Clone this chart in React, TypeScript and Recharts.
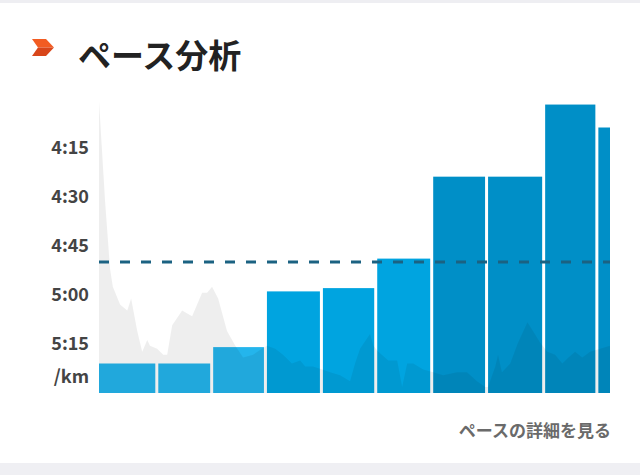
import { ComposedChart, Area, XAxis, YAxis, ReferenceArea, ReferenceLine, Label } from "recharts";

// km splits: start of each split (km), pace in seconds per km
const SPLIT_START_KM = [0, 1.07, 2.06, 3.03, 4.04, 5.02, 6.03, 7.02, 8.05, 9.01];
const TOTAL_KM = 9.22;
const SPLIT_PACE_SEC = [321, 321, 316, 299, 298, 289, 264, 264, 242, 249];
const AVG_PACE_SEC = 290;
const PACE_TICKS = [255, 270, 285, 300, 315];

// background profile (relative elevation)
const PROFILE_KM = [
  0, 0.11, 0.2, 0.25, 0.38, 0.51, 0.58, 0.69, 0.78, 0.87, 0.92, 1.05, 1.16, 1.23, 1.32,
  1.5, 1.68, 1.86, 1.95, 2.04, 2.15, 2.31, 2.46, 2.6, 2.78, 2.94, 3.03, 3.18, 3.32, 3.48,
  3.63, 3.72, 3.86, 4.03, 4.17, 4.35, 4.53, 4.62, 4.71, 4.89, 4.95, 5.04, 5.22, 5.38,
  5.47, 5.56, 5.67, 5.85, 6.03, 6.21, 6.46, 6.64, 6.82, 6.97, 7.02, 7.15, 7.2, 7.27,
  7.42, 7.56, 7.73, 7.83, 7.96, 8.09, 8.23, 8.36, 8.47, 8.59, 8.72, 8.86, 9.04, 9.22,
];
const PROFILE_VAL = [
  99, 65, 42, 36, 30, 28, 32, 21, 14, 18, 16, 15, 13, 13, 23,
  28, 26, 34, 34, 36, 32, 21, 16, 12, 13, 15, 16, 15, 13, 10,
  11, 9, 9, 8, 7, 6, 4, 10, 15, 20, 16, 14, 11, 11,
  2, 10, 10, 8, 7, 6, 7, 7, 4, 2, 2, 9, 13, 7,
  10, 17, 24, 21, 17, 14, 13, 10, 12, 14, 12, 14, 15, 16,
];

const profileData = PROFILE_KM.map((km, i) => ({ km, elev: PROFILE_VAL[i] }));

const FONT = '"Noto Sans CJK JP", "Noto Sans", sans-serif';
const GAP = 3;

function barColor(pace: number) {
  if (pace > 305) return "#24b5ec";
  if (pace > 270) return "#00a4e0";
  return "#008fc7";
}

function fmtPace(s: number) {
  const m = Math.floor(s / 60);
  const r = s % 60;
  return `${m}:${String(r).padStart(2, "0")}`;
}

export default function App() {
  return (
    <div
      style={{
        position: "absolute",
        left: 0,
        top: 0,
        width: 640,
        height: 475,
        background: "#fff",
        fontFamily: FONT,
        overflow: "hidden",
      }}
    >
      <div style={{ position: "absolute", left: 0, top: 0, width: 640, height: 3, background: "#eeeef2" }} />
      <div style={{ position: "absolute", left: 0, top: 463, width: 640, height: 12, background: "#efeff3" }} />

      <svg style={{ position: "absolute", left: 0, top: 0 }} width={60} height={70}>
        <polygon points="32,39 46,39 54,47.5 38,47.5" fill="#f25c22" />
        <polygon points="38,47.5 54,47.5 46,56 32,56" fill="#d8461a" />
      </svg>
      <div
        style={{
          position: "absolute",
          left: 78,
          top: 30,
          fontSize: 33,
          fontWeight: 700,
          color: "#222",
          lineHeight: "48px",
        }}
      >
        ペース分析
      </div>

      <div style={{ position: "absolute", left: 0, top: 0 }}>
        <ComposedChart
          width={640}
          height={475}
          data={profileData}
          margin={{ top: 98, right: 30, bottom: 82, left: 0 }}
        >
          <XAxis dataKey="km" type="number" domain={[0, TOTAL_KM]} allowDataOverflow hide />
          <YAxis
            yAxisId="pace"
            type="number"
            reversed
            domain={[240, 330]}
            allowDataOverflow
            ticks={PACE_TICKS}
            tickFormatter={fmtPace}
            width={99}
            axisLine={false}
            tickLine={false}
            tickSize={0}
            tickMargin={10}
            tick={{ fill: "#444", fontSize: 18, fontWeight: 700, fontFamily: FONT }}
          >
            <Label
              value="/km"
              position="insideBottomRight"
              offset={10}
              style={{ fill: "#444", fontSize: 18, fontWeight: 700, fontFamily: FONT }}
            />
          </YAxis>
          <YAxis
            yAxisId="elev"
            orientation="right"
            width={0}
            type="number"
            domain={[0, 100]}
            allowDataOverflow
            hide
          />

          {SPLIT_PACE_SEC.map((pace, i) => {
            const last = i === SPLIT_PACE_SEC.length - 1;
            const x2 = last ? TOTAL_KM : SPLIT_START_KM[i + 1];
            return (
              <ReferenceArea
                key={i}
                yAxisId="pace"
                x1={SPLIT_START_KM[i]}
                x2={x2}
                y1={pace}
                y2={330}
                zIndex={50}
                shape={(p: any) => (
                  <rect
                    x={p.x}
                    y={p.y}
                    width={Math.max(0, p.width - (last ? 0 : GAP))}
                    height={p.height}
                    fill={barColor(pace)}
                  />
                )}
              />
            );
          })}

          <Area
            yAxisId="elev"
            type="linear"
            dataKey="elev"
            stroke="none"
            fill="#000"
            fillOpacity={0.065}
            isAnimationActive={false}
            zIndex={150}
          />

          <ReferenceLine
            yAxisId="pace"
            y={AVG_PACE_SEC}
            stroke="#1b6282"
            strokeWidth={3}
            strokeDasharray="10 11"
            zIndex={400}
          />
        </ComposedChart>
      </div>

      <div
        style={{
          position: "absolute",
          right: 29,
          top: 418,
          fontSize: 17,
          fontWeight: 700,
          color: "#6a6a6a",
          lineHeight: "24px",
        }}
      >
        ペースの詳細を見る
      </div>
    </div>
  );
}
